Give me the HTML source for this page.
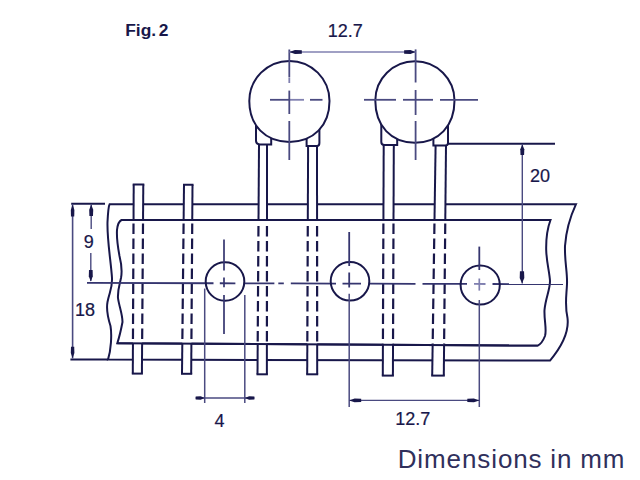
<!DOCTYPE html>
<html><head><meta charset="utf-8"><style>
html,body{margin:0;padding:0;background:#fff;}
svg{display:block;}
text{font-family:"Liberation Sans",sans-serif;}
</style></head><body>
<svg width="640" height="480" viewBox="0 0 640 480">
<rect width="640" height="480" fill="#fff"/>
<path d="M109.6,204.2 L576,204.2 C571,215 566,232 565,246 C564.5,262 567.5,272 567,284 C566.5,296 564.5,305 567.5,318 C569,330 563,345 550,360.6 L108,359.6 C111,350 112,335 110.5,326 C108,318 106,310 107.5,302 C109.5,292 112.5,288 112,278 C111,262 107,240 107.5,222 C108,212 108.5,206 109.6,204.2 Z" stroke="#18174a" stroke-width="2.0" fill="#fff" />
<path d="M121.5,220 L550.5,220 C547.5,228 546,240 546.2,250 C546.5,262 549.5,272 550,281 C550,290 545.5,298 544.5,310 C544,320 547,330 545,336 C543,341 540,344.6 537.8,345.6 L117.3,343.2 C119,338 121,330 122.5,322 C122.5,314 119,306 118,298 C117.5,290 119.5,285 121,278 C122.5,270 121,262 119.5,256 C118,248 116.5,238 117,230 C117.5,225 119.5,221 121.5,220 Z" stroke="#18174a" stroke-width="2.0" fill="none" />
<polygon points="133.7,184.6 143.3,184.6 141.9,373.6 132.8,373.6" fill="#fff"/>
<line x1="133.7" y1="184.6" x2="133.53" y2="220" stroke="#18174a" stroke-width="2.0" />
<line x1="132.94" y1="343.29475177304965" x2="132.8" y2="373.6" stroke="#18174a" stroke-width="2.0" />
<line x1="133.51" y1="223.5" x2="132.95" y2="342.29475177304965" stroke="#18174a" stroke-width="2.2" stroke-dasharray="10.5 4.5"/>
<line x1="143.3" y1="184.6" x2="143.04" y2="220" stroke="#18174a" stroke-width="2.0" />
<line x1="142.12" y1="343.349219858156" x2="141.9" y2="373.6" stroke="#18174a" stroke-width="2.0" />
<line x1="143.01" y1="223.5" x2="142.13" y2="342.349219858156" stroke="#18174a" stroke-width="2.2" stroke-dasharray="10.5 4.5"/>
<line x1="131.8" y1="373.6" x2="142.9" y2="373.6" stroke="#18174a" stroke-width="2.0" />
<path d="M133.7,185.6 L133.7,184.6 L143.3,184.6 L143.3,185.6" stroke="#18174a" stroke-width="2.0" fill="none" stroke-linejoin="miter"/>
<polygon points="184.0,184.8 192.5,184.8 191.2,373.8 182.0,373.8" fill="#fff"/>
<line x1="184.0" y1="184.8" x2="183.63" y2="220" stroke="#18174a" stroke-width="2.0" />
<line x1="182.32" y1="343.5801418439716" x2="182.0" y2="373.8" stroke="#18174a" stroke-width="2.0" />
<line x1="183.59" y1="223.5" x2="182.33" y2="342.5801418439716" stroke="#18174a" stroke-width="2.2" stroke-dasharray="10.5 4.5"/>
<line x1="192.5" y1="184.8" x2="192.26" y2="220" stroke="#18174a" stroke-width="2.0" />
<line x1="191.41" y1="343.62836879432626" x2="191.2" y2="373.8" stroke="#18174a" stroke-width="2.0" />
<line x1="192.23" y1="223.5" x2="191.41" y2="342.62836879432626" stroke="#18174a" stroke-width="2.2" stroke-dasharray="10.5 4.5"/>
<line x1="181.0" y1="373.8" x2="192.2" y2="373.8" stroke="#18174a" stroke-width="2.0" />
<path d="M184.0,185.8 L184.0,184.8 L192.5,184.8 L192.5,185.8" stroke="#18174a" stroke-width="2.0" fill="none" stroke-linejoin="miter"/>
<polygon points="259.0,145 267.0,145 266.9,374.3 257.5,374.3" fill="#fff"/>
<line x1="259.0" y1="145" x2="258.51" y2="220" stroke="#18174a" stroke-width="2.0" />
<line x1="257.7" y1="344.00567375886527" x2="257.5" y2="374.3" stroke="#18174a" stroke-width="2.0" />
<line x1="258.47" y1="226" x2="257.7" y2="343.00567375886527" stroke="#18174a" stroke-width="2.2" stroke-dasharray="10.5 4.5"/>
<line x1="267.0" y1="145" x2="266.97" y2="220" stroke="#18174a" stroke-width="2.0" />
<line x1="266.91" y1="344.0510638297872" x2="266.9" y2="374.3" stroke="#18174a" stroke-width="2.0" />
<line x1="266.96" y1="226" x2="266.91" y2="343.0510638297872" stroke="#18174a" stroke-width="2.2" stroke-dasharray="10.5 4.5"/>
<line x1="256.5" y1="374.3" x2="267.9" y2="374.3" stroke="#18174a" stroke-width="2.0" />
<polygon points="308.1,146 317.0,146 317.2,374.3 307.2,374.3" fill="#fff"/>
<line x1="308.1" y1="146" x2="307.81" y2="220" stroke="#18174a" stroke-width="2.0" />
<line x1="307.32" y1="344.28425531914894" x2="307.2" y2="374.3" stroke="#18174a" stroke-width="2.0" />
<line x1="307.78" y1="226" x2="307.32" y2="343.28425531914894" stroke="#18174a" stroke-width="2.2" stroke-dasharray="10.5 4.5"/>
<line x1="317.0" y1="146" x2="317.06" y2="220" stroke="#18174a" stroke-width="2.0" />
<line x1="317.17" y1="344.3347517730497" x2="317.2" y2="374.3" stroke="#18174a" stroke-width="2.0" />
<line x1="317.07" y1="226" x2="317.17" y2="343.3347517730497" stroke="#18174a" stroke-width="2.2" stroke-dasharray="10.5 4.5"/>
<line x1="306.2" y1="374.3" x2="318.2" y2="374.3" stroke="#18174a" stroke-width="2.0" />
<polygon points="383.7,145 393.8,145 392.9,375.6 382.8,375.6" fill="#fff"/>
<line x1="383.7" y1="145" x2="383.41" y2="220" stroke="#18174a" stroke-width="2.0" />
<line x1="382.92" y1="344.7131914893617" x2="382.8" y2="375.6" stroke="#18174a" stroke-width="2.0" />
<line x1="383.39" y1="223.5" x2="382.92" y2="343.7131914893617" stroke="#18174a" stroke-width="2.2" stroke-dasharray="10.5 4.5"/>
<line x1="393.8" y1="145" x2="393.51" y2="220" stroke="#18174a" stroke-width="2.0" />
<line x1="393.02" y1="344.7704964539007" x2="392.9" y2="375.6" stroke="#18174a" stroke-width="2.0" />
<line x1="393.49" y1="223.5" x2="393.02" y2="343.7704964539007" stroke="#18174a" stroke-width="2.2" stroke-dasharray="10.5 4.5"/>
<line x1="381.8" y1="375.6" x2="393.9" y2="375.6" stroke="#18174a" stroke-width="2.0" />
<polygon points="435.6,145.5 446.0,145.5 443.8,375.6 432.2,375.6" fill="#fff"/>
<line x1="435.6" y1="145.5" x2="434.5" y2="220" stroke="#18174a" stroke-width="2.0" />
<line x1="432.65" y1="345.0076595744681" x2="432.2" y2="375.6" stroke="#18174a" stroke-width="2.0" />
<line x1="434.45" y1="223.5" x2="432.67" y2="344.0076595744681" stroke="#18174a" stroke-width="2.2" stroke-dasharray="10.5 4.5"/>
<line x1="446.0" y1="145.5" x2="445.29" y2="220" stroke="#18174a" stroke-width="2.0" />
<line x1="444.09" y1="345.06666666666666" x2="443.8" y2="375.6" stroke="#18174a" stroke-width="2.0" />
<line x1="445.25" y1="223.5" x2="444.1" y2="344.06666666666666" stroke="#18174a" stroke-width="2.2" stroke-dasharray="10.5 4.5"/>
<line x1="431.2" y1="375.6" x2="444.8" y2="375.6" stroke="#18174a" stroke-width="2.0" />
<line x1="121.5" y1="220" x2="550.5" y2="220" stroke="#18174a" stroke-width="2.0" />
<line x1="117.3" y1="343.2" x2="537.8" y2="345.6" stroke="#18174a" stroke-width="2.0" />
<line x1="87" y1="282.9" x2="213.5" y2="283.25" stroke="#35356f" stroke-width="1.8" />
<line x1="243.8" y1="283.33" x2="274.4" y2="283.41" stroke="#35356f" stroke-width="1.8" />
<line x1="278.3" y1="283.42" x2="283.8" y2="283.44" stroke="#35356f" stroke-width="1.8" />
<line x1="290.8" y1="283.46" x2="336" y2="283.58" stroke="#35356f" stroke-width="1.8" />
<line x1="370" y1="283.67" x2="415.5" y2="283.8" stroke="#35356f" stroke-width="1.8" />
<line x1="422.5" y1="283.82" x2="467" y2="283.94" stroke="#35356f" stroke-width="1.8" />
<line x1="492.5" y1="284.01" x2="563" y2="284.2" stroke="#35356f" stroke-width="1.8" />
<line x1="219.8" y1="283.26" x2="235.4" y2="283.31" stroke="#35356f" stroke-width="1.8" />
<line x1="342.5" y1="283.6" x2="361" y2="283.65" stroke="#35356f" stroke-width="1.8" />
<line x1="474" y1="283.96" x2="485.5" y2="283.99" stroke="#8080b0" stroke-width="1.8" />
<circle cx="225" cy="281.5" r="19.3" stroke="#18174a" stroke-width="2" fill="none"/>
<circle cx="350" cy="281.3" r="19.3" stroke="#18174a" stroke-width="2" fill="none"/>
<circle cx="480.2" cy="285" r="19.6" stroke="#18174a" stroke-width="2" fill="none"/>
<line x1="224" y1="239.5" x2="224" y2="270.6" stroke="#35356f" stroke-width="1.7" />
<line x1="224" y1="277.4" x2="224" y2="287.3" stroke="#35356f" stroke-width="1.7" />
<line x1="224" y1="295" x2="224" y2="334" stroke="#35356f" stroke-width="1.7" />
<line x1="349.2" y1="232" x2="349.2" y2="266" stroke="#35356f" stroke-width="1.8" />
<line x1="349.2" y1="272.5" x2="349.2" y2="287.5" stroke="#35356f" stroke-width="1.8" />
<line x1="349.2" y1="293.8" x2="349.2" y2="407" stroke="#4a4a80" stroke-width="1.5" />
<line x1="479.3" y1="246.6" x2="479.3" y2="270" stroke="#35356f" stroke-width="1.8" />
<line x1="479.3" y1="278.5" x2="479.3" y2="290.6" stroke="#8080b0" stroke-width="1.7" />
<line x1="479.3" y1="300" x2="479.3" y2="407" stroke="#4a4a80" stroke-width="1.5" />
<path d="M256,122 L256,141 Q256.3,144.4 259.8,144.4 L271.2,144.4 L271.2,135" stroke="#18174a" stroke-width="2.0" fill="#fff" />
<path d="M306.6,136 L306.6,146 L317,146 Q319.4,146 319.4,143 L319.4,126" stroke="#18174a" stroke-width="2.0" fill="#fff" />
<path d="M249.30,101.00 C249.30,78.85 267.25,60.90 289.40,60.90 C311.55,60.90 329.50,78.85 329.50,101.00 C329.50,125.54 313.46,141.90 289.40,141.90 C265.34,141.90 249.30,125.54 249.30,101.00 Z" stroke="#18174a" stroke-width="2.0" fill="#fff" />
<line x1="270" y1="99.8" x2="289" y2="99.8" stroke="#4a4a80" stroke-width="1.8" />
<line x1="289" y1="99.8" x2="304" y2="99.8" stroke="#8080b0" stroke-width="1.8" />
<line x1="310" y1="99.8" x2="322.5" y2="99.8" stroke="#4a4a80" stroke-width="1.8" />
<line x1="289.3" y1="49.5" x2="289.3" y2="77.5" stroke="#4a4a80" stroke-width="1.8" />
<line x1="289.3" y1="78" x2="289.3" y2="83" stroke="#8080b0" stroke-width="1.8" />
<line x1="289.3" y1="90.6" x2="289.3" y2="114" stroke="#4a4a80" stroke-width="1.8" />
<line x1="289.3" y1="121" x2="289.3" y2="160" stroke="#4a4a80" stroke-width="1.8" />
<path d="M381.3,121 L381.3,142 Q381.3,145 384.5,145 L397.2,145 L397.2,135" stroke="#18174a" stroke-width="2.0" fill="#fff" />
<path d="M433.4,135 L433.4,145.5 L445,145.5 Q448,145.5 448,143 L448,122" stroke="#18174a" stroke-width="2.0" fill="#fff" />
<path d="M375.30,100.50 C375.30,78.79 393.03,61.20 414.90,61.20 C436.77,61.20 454.50,78.79 454.50,100.50 C454.50,125.88 438.66,142.80 414.90,142.80 C391.14,142.80 375.30,125.88 375.30,100.50 Z" stroke="#18174a" stroke-width="2.0" fill="#fff" />
<line x1="364" y1="99.8" x2="396" y2="99.8" stroke="#4a4a80" stroke-width="1.8" />
<line x1="403" y1="99.8" x2="433" y2="99.8" stroke="#4a4a80" stroke-width="1.8" />
<line x1="440" y1="99.8" x2="478" y2="99.8" stroke="#4a4a80" stroke-width="1.8" />
<line x1="415.6" y1="49.4" x2="415.6" y2="82.5" stroke="#4a4a80" stroke-width="1.8" />
<line x1="415.6" y1="90" x2="415.6" y2="115" stroke="#4a4a80" stroke-width="1.8" />
<line x1="415.6" y1="121" x2="415.6" y2="160" stroke="#4a4a80" stroke-width="1.8" />
<line x1="289.3" y1="52" x2="415.6" y2="52" stroke="#8080b0" stroke-width="1.3" />
<polygon points="289.30,52.00 294.93,53.90 301.80,53.71 301.80,50.29 294.93,50.10" fill="#18174a"/>
<polygon points="415.60,52.00 410.43,50.10 404.10,50.29 404.10,53.71 410.43,53.90" fill="#18174a"/>
<text x="345.3" y="36.5" font-size="18" font-weight="normal" text-anchor="middle" fill="#18174a" stroke="#18174a" stroke-width="0.2">12.7</text>
<line x1="448" y1="143.8" x2="555" y2="143.8" stroke="#18174a" stroke-width="2.0" />
<line x1="522.3" y1="144" x2="522.3" y2="283.5" stroke="#4a4a80" stroke-width="1.4" />
<polygon points="522.30,144.50 520.30,149.22 520.50,155.00 524.10,155.00 524.30,149.22" fill="#18174a"/>
<polygon points="522.00,283.30 524.30,277.90 524.07,271.30 519.93,271.30 519.70,277.90" fill="#18174a"/>
<text x="540" y="182.2" font-size="18" font-weight="normal" text-anchor="middle" fill="#18174a" stroke="#18174a" stroke-width="0.2">20</text>
<line x1="71.2" y1="203.8" x2="105" y2="203.8" stroke="#18174a" stroke-width="2.0" />
<line x1="70.4" y1="359.4" x2="108" y2="359.4" stroke="#18174a" stroke-width="2.0" />
<line x1="72.6" y1="204" x2="72.6" y2="358.5" stroke="#4a4a80" stroke-width="1.6" />
<polygon points="72.60,204.50 70.80,209.90 70.98,216.50 74.22,216.50 74.40,209.90" fill="#18174a"/>
<polygon points="72.60,358.30 74.40,353.12 74.22,346.80 70.98,346.80 70.80,353.12" fill="#18174a"/>
<line x1="91.2" y1="204" x2="91.2" y2="229" stroke="#4a4a80" stroke-width="1.4" />
<line x1="90.8" y1="253" x2="90.8" y2="281" stroke="#4a4a80" stroke-width="1.4" />
<polygon points="91.20,204.50 89.20,209.68 89.40,216.00 93.00,216.00 93.20,209.68" fill="#18174a"/>
<polygon points="90.80,281.50 92.80,276.32 92.60,270.00 89.00,270.00 88.80,276.32" fill="#18174a"/>
<text x="88.7" y="247.8" font-size="18" font-weight="normal" text-anchor="middle" fill="#18174a" stroke="#18174a" stroke-width="0.2">9</text>
<text x="85" y="316.2" font-size="18" font-weight="normal" text-anchor="middle" fill="#18174a" stroke="#18174a" stroke-width="0.2">18</text>
<line x1="204.7" y1="288.5" x2="204.7" y2="403" stroke="#4a4a80" stroke-width="1.5" />
<line x1="244.8" y1="295" x2="244.8" y2="403" stroke="#4a4a80" stroke-width="1.5" />
<line x1="195.6" y1="398" x2="254.4" y2="398" stroke="#4a4a80" stroke-width="1.3" />
<polygon points="204.70,398.00 200.65,396.30 195.70,396.47 195.70,399.53 200.65,399.70" fill="#18174a"/>
<polygon points="244.80,398.00 249.12,399.70 254.40,399.53 254.40,396.47 249.12,396.30" fill="#18174a"/>
<text x="219.5" y="426.8" font-size="18" font-weight="normal" text-anchor="middle" fill="#18174a" stroke="#18174a" stroke-width="0.2">4</text>
<line x1="349.2" y1="400.4" x2="479.3" y2="400.4" stroke="#4a4a80" stroke-width="1.3" />
<polygon points="349.20,400.40 354.60,402.30 361.20,402.11 361.20,398.69 354.60,398.50" fill="#18174a"/>
<polygon points="479.30,400.40 473.90,398.50 467.30,398.69 467.30,402.11 473.90,402.30" fill="#18174a"/>
<text x="412.8" y="424.8" font-size="18" font-weight="normal" text-anchor="middle" fill="#18174a" stroke="#18174a" stroke-width="0.2">12.7</text>
<text x="125.2" y="35.6" font-size="17.4" font-weight="bold" text-anchor="start" fill="#18174a" letter-spacing="0" word-spacing="-2.2">Fig. 2</text>
<text x="397.7" y="467.8" font-size="26" font-weight="normal" text-anchor="start" fill="#30305c" letter-spacing="0.9" word-spacing="-0.3">Dimensions in mm</text>
</svg>
</body></html>
